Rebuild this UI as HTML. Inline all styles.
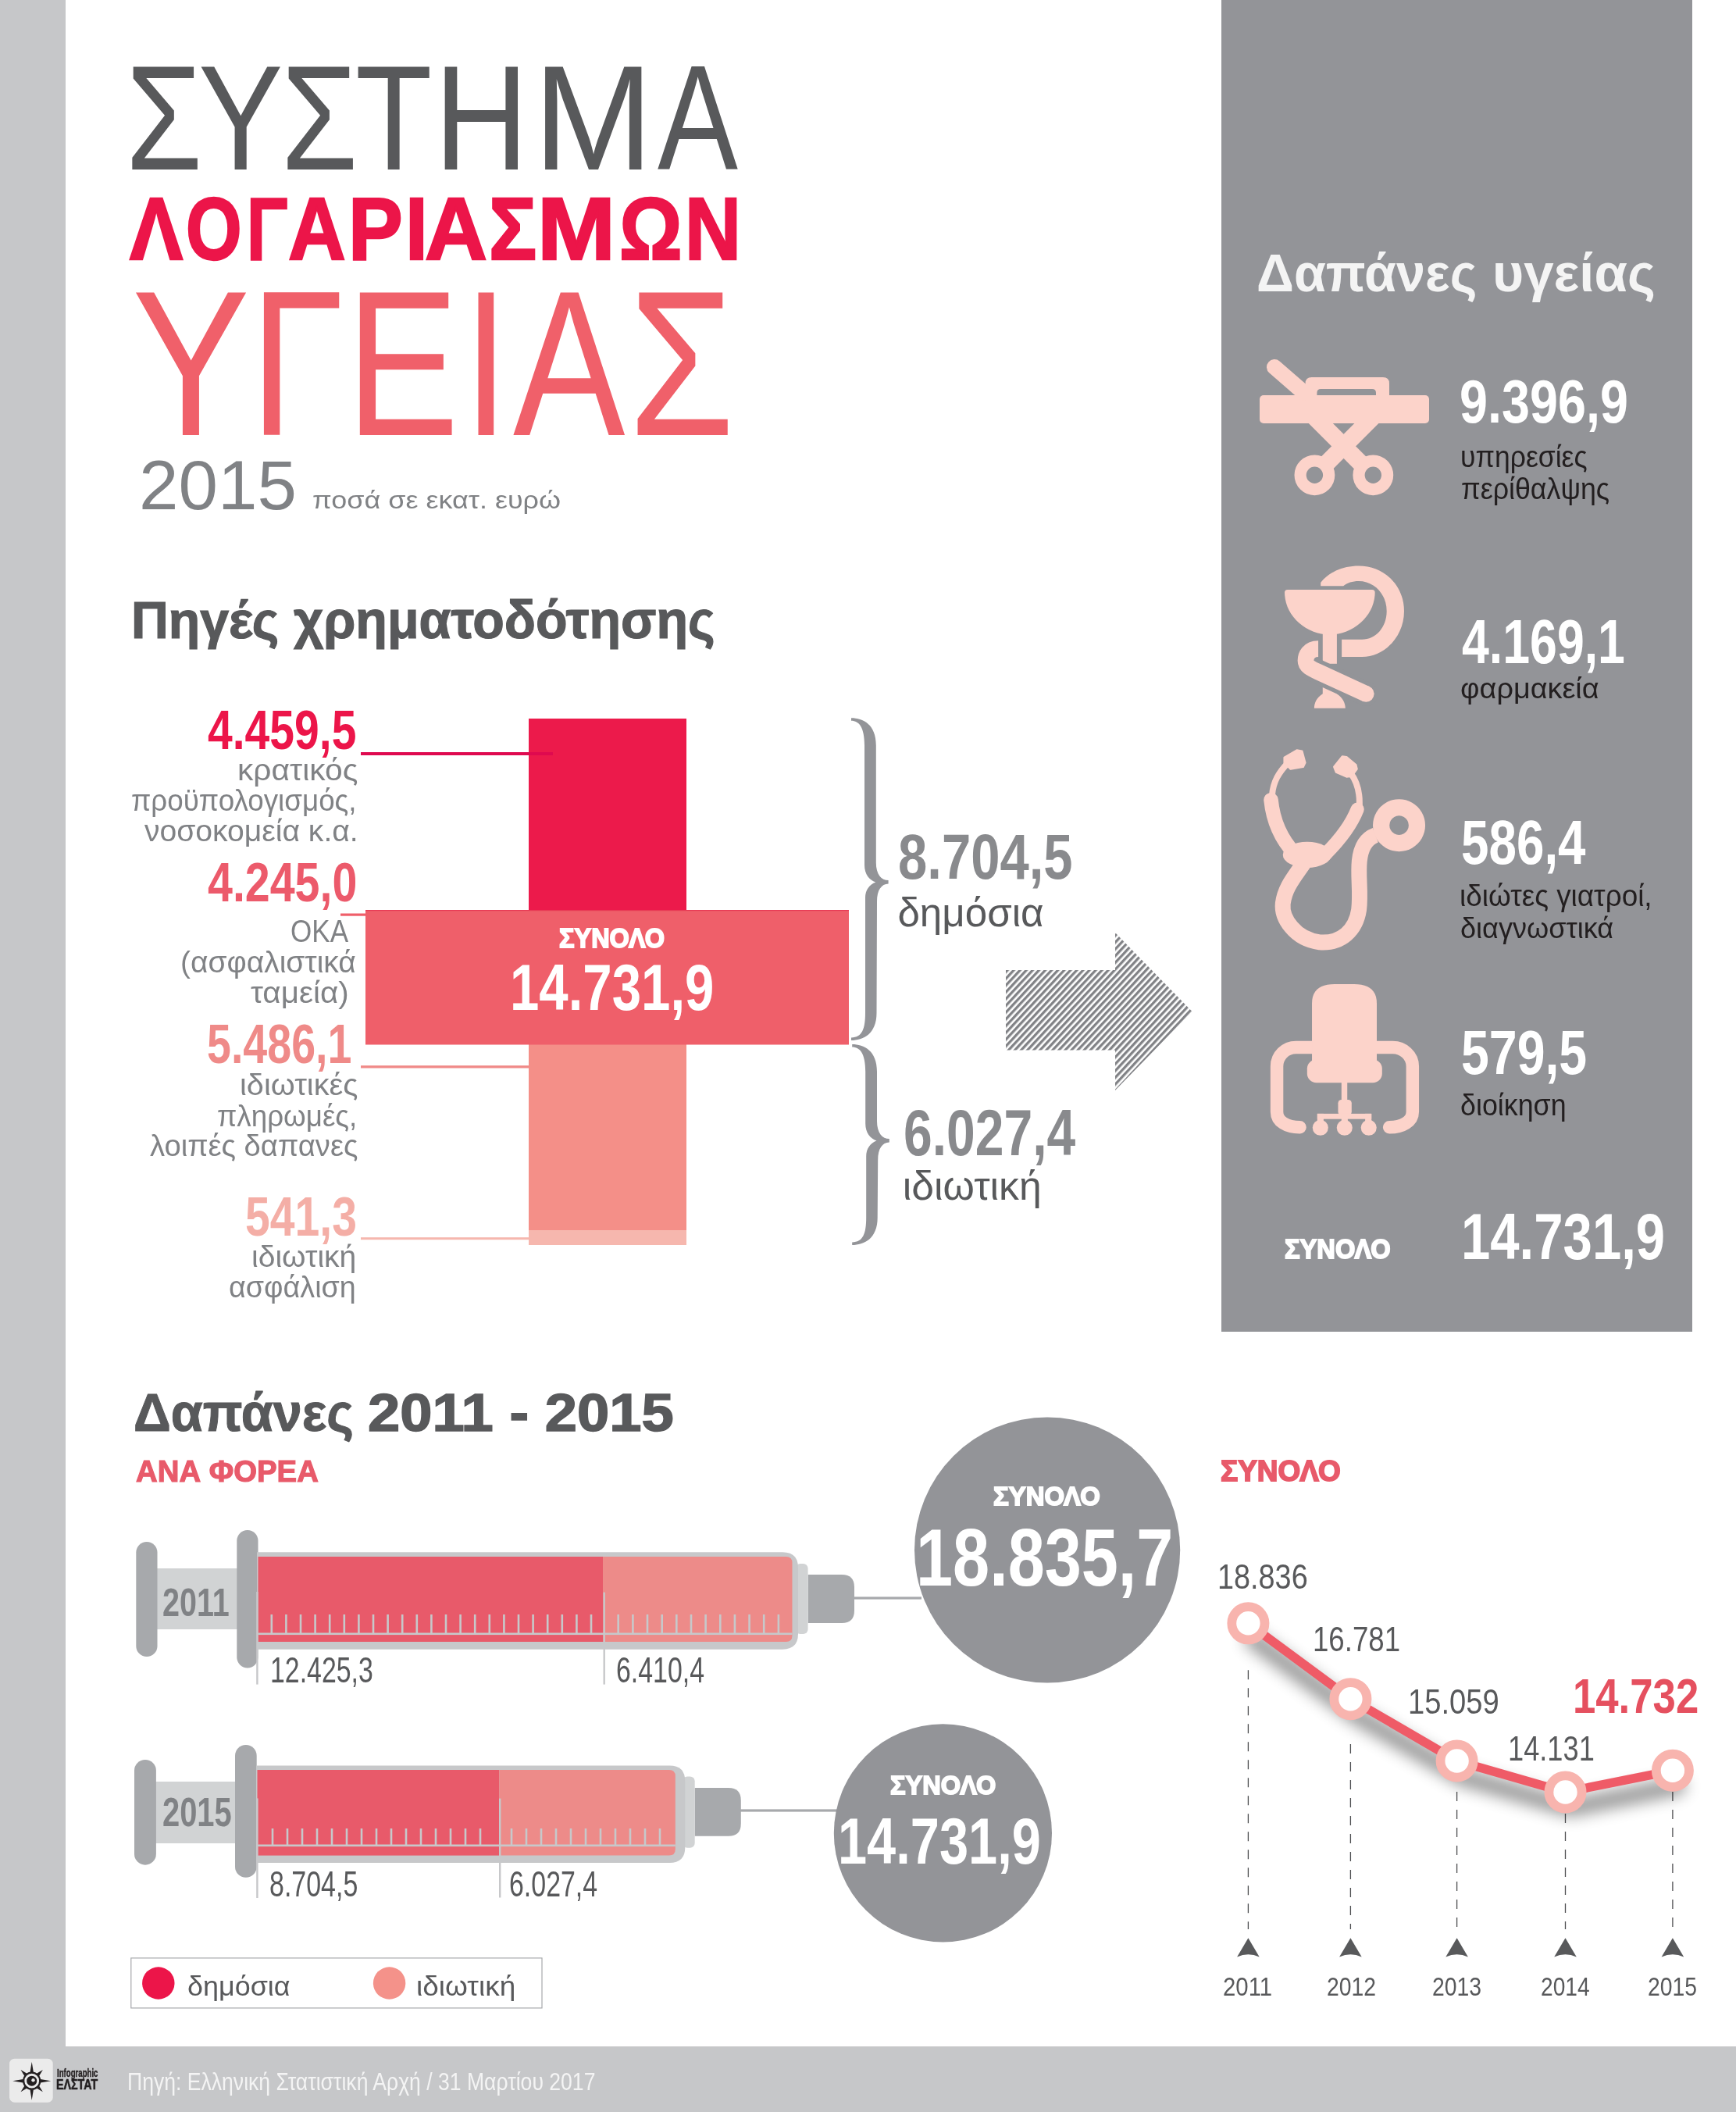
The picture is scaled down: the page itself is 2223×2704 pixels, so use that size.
<!DOCTYPE html>
<html><head><meta charset="utf-8"><style>
html,body{margin:0;padding:0;}
body{width:2223px;height:2704px;position:relative;overflow:hidden;background:#fff;font-family:"Liberation Sans",sans-serif;}
.t{position:absolute;white-space:pre;transform-origin:0 0;}
svg{position:absolute;left:0;top:0;}
</style></head><body>
<svg width="2223" height="2704" viewBox="0 0 2223 2704">
<defs>
<pattern id="hatch" patternUnits="userSpaceOnUse" width="5.9" height="20" patternTransform="translate(1288 1242) rotate(43)">
<rect x="0" y="0" width="3.3" height="20" fill="#818286"/></pattern>
<filter id="shd" filterUnits="userSpaceOnUse" x="1500" y="2000" width="723" height="400">
<feGaussianBlur in="SourceAlpha" stdDeviation="10"/>
<feOffset dx="6" dy="20" result="o"/>
<feComponentTransfer><feFuncA type="linear" slope="0.42"/></feComponentTransfer>
</filter>
</defs>
<rect x="0" y="0" width="84" height="2704" fill="#c6c7c9"/>
<rect x="0" y="2620" width="2223" height="84" fill="#c6c7c9"/>
<rect x="1564" y="0" width="603" height="1705" fill="#939498"/>
<rect x="677" y="920" width="202" height="246" fill="#ec1a4b"/>
<rect x="677" y="1337" width="202" height="239" fill="#f48f88"/>
<rect x="677" y="1575" width="202" height="19" fill="#f6b7ae"/>
<rect x="468" y="1165" width="619" height="172.5" fill="#ef5f6a"/>
<rect x="468" y="1165" width="619" height="1.2" fill="#e83a55"/>
<rect x="462" y="963" width="246" height="4" fill="#df0a4f"/>
<rect x="436" y="1169.5" width="32" height="3.2" fill="#ef5f6a"/>
<rect x="462" y="1364.2" width="215" height="3.3" fill="#f08a88"/>
<rect x="462" y="1584.2" width="215" height="3" fill="#f6b7ae"/>
<path d="M1090,919.2 C1105,919.2 1121.8,927.2 1121.8,954.2 L1121.8,1104.4 C1121.8,1119.4 1128.6,1127.1000000000001 1137.6,1127.1000000000001 L1137.6,1131.6000000000001 C1128.6,1131.9 1123,1139.4 1123,1154.4 L1122.5,1297 C1122.5,1324 1105,1332 1090,1332 L1090,1328.4 C1104,1328.4 1108,1317 1108,1297 L1108,1149.4 C1108,1139.4 1113.3,1132.4 1121.3,1129.4 C1113.3,1126.4 1107,1119.4 1107,1107.4 L1107,954.2 C1107,931.2 1100,922.8000000000001 1090,922.8000000000001 Z" fill="#939498"/>
<path d="M1091.2,1336.9 C1106.2,1336.9 1123.0,1344.9 1123.0,1371.9 L1123.0,1435.4 C1123.0,1450.4 1129.8,1458.1000000000001 1138.8,1458.1000000000001 L1138.8,1462.6000000000001 C1129.8,1462.9 1124.2,1470.4 1124.2,1485.4 L1123.7,1559 C1123.7,1586 1106.2,1594 1091.2,1594 L1091.2,1590.4 C1105.2,1590.4 1109.2,1579 1109.2,1559 L1109.2,1480.4 C1109.2,1470.4 1114.5,1463.4 1122.5,1460.4 C1114.5,1457.4 1108.2,1450.4 1108.2,1438.4 L1108.2,1371.9 C1108.2,1348.9 1101.2,1340.5 1091.2,1340.5 Z" fill="#939498"/>
<polygon points="1288,1242 1428,1242 1428,1194 1526.6,1295 1428,1396 1428,1344.5 1288,1344.5" fill="url(#hatch)"/>
<g fill="#fcd3ca">
<rect x="1613" y="506" width="217" height="36" rx="5"/>
<path fill-rule="evenodd" d="M1679.6,483 H1771 Q1779,483 1779,491 V507 H1762 V503 Q1762,498 1757,498 H1691.4 Q1686.4,498 1686.4,503 V507 H1671.6 V491 Q1671.6,483 1679.6,483 Z"/>
</g>
<g stroke="#fcd3ca" fill="none">
<line x1="1632" y1="470" x2="1670" y2="503" stroke-width="20" stroke-linecap="round"/>
<line x1="1674.3" y1="525" x2="1745" y2="595.7" stroke-width="22"/>
<line x1="1766.9" y1="525" x2="1696.2" y2="595.7" stroke-width="22"/>
</g>
<circle cx="1683.4" cy="608.3" r="18.3" stroke-width="15.2" stroke="#fcd3ca" fill="#939498"/>
<circle cx="1758.3" cy="608.3" r="18.3" stroke-width="15.2" stroke="#fcd3ca" fill="#939498"/>
<g transform="translate(1630 715) scale(0.10369)">
<rect x="615" y="800" width="175" height="500" fill="#fcd3ca"/>
<path d="M615,1580 L790,1600 L790,1670 C860,1720 895,1780 895,1850 L510,1850 C510,1780 540,1720 615,1670 Z" fill="#fcd3ca"/>
<path d="M560,1115 C440,1115 405,1200 405,1262 C405,1330 470,1360 560,1401 L1150,1672" fill="none" stroke="#939498" stroke-width="300"/>
<circle cx="1150" cy="1672" r="150" fill="#939498"/>
<path d="M560,1115 C440,1115 405,1200 405,1262 C405,1330 470,1360 560,1401 L1150,1672" fill="none" stroke="#fcd3ca" stroke-width="200"/>
<circle cx="1150" cy="1672" r="100" fill="#fcd3ca"/>
<path d="M145,420 Q145,385 180,385 L1225,385 Q1260,385 1260,420 C1260,700 1000,940 702,940 C400,940 145,700 145,420 Z" fill="#fcd3ca"/>
<path d="M590,300 C680,180 850,92 1060,92 C1370,92 1620,330 1620,650 C1620,960 1380,1215 1100,1215 L850,1215 L850,1000 L1100,1000 C1270,1000 1405,850 1405,650 C1405,440 1250,280 1060,280 C980,280 920,300 870,340 L590,340 Z" fill="#fcd3ca"/>
</g>
<g transform="translate(1605 950) scale(0.13249)" fill="none" stroke="#fcd3ca" stroke-linecap="round" stroke-linejoin="round">
<path d="M500,1150 C400,1300 305,1400 285,1560 C270,1700 400,1905 640,1935 C850,1950 990,1820 1020,1620 C1040,1450 1010,1300 1025,1150 C1040,1000 1100,930 1180,900" stroke-width="150" stroke-linecap="butt"/>
<path d="M330,205 C250,290 190,380 180,520" stroke-width="60"/>
<path d="M940,300 C1000,380 1030,470 1025,610" stroke-width="60"/>
<path d="M170,560 C190,760 260,930 400,1080" stroke-width="140"/>
<path d="M1005,650 C950,790 850,930 700,1080" stroke-width="130"/>
</g>
<g transform="translate(1605 950) scale(0.13249)" fill="#fcd3ca">
<ellipse cx="520" cy="1090" rx="235" ry="125"/>
<path d="M300,150 L420,80 L470,90 L500,200 L480,240 L360,260 L300,200 Z" stroke="#fcd3ca" stroke-width="20" stroke-linejoin="round"/>
<path d="M780,240 L860,140 L900,145 L990,220 L1000,260 L950,330 L900,335 L800,290 Z" stroke="#fcd3ca" stroke-width="20" stroke-linejoin="round"/>
<path fill-rule="evenodd" d="M1408,552 A253,253 0 1 1 1407.9,552 Z M1408,712 A93,93 0 1 0 1408.1,712 Z"/>
</g>
<g transform="translate(1615 1250) scale(0.12385)">
<g fill="none" stroke="#fcd3ca" stroke-width="133" stroke-linecap="round">
<path d="M560,735 H360 C250,735 162,820 162,930 V1400 C162,1500 260,1560 400,1560"/>
<path d="M1160,735 H1360 C1470,735 1565,820 1565,930 V1400 C1565,1500 1460,1560 1325,1560"/>
</g>
<g fill="#fcd3ca">
<path d="M525,1000 V280 C525,150 600,80 760,80 H960 C1120,80 1195,150 1195,280 V1000 Z"/>
<rect x="475" y="860" width="775" height="240" rx="95"/>
<rect x="830" y="1090" width="60" height="340"/>
<rect x="795" y="1275" width="140" height="160" rx="35"/>
<rect x="580" y="1420" width="560" height="55"/>
<rect x="580" y="1420" width="65" height="120"/>
<rect x="1075" y="1420" width="65" height="120"/>
<rect x="830" y="1420" width="65" height="120"/>
<circle cx="612" cy="1565" r="81"/><circle cx="862" cy="1565" r="81"/><circle cx="1112" cy="1565" r="81"/>
</g></g>
<rect x="195" y="2008" width="115" height="78" fill="#d1d3d4"/>
<rect x="174.3" y="1974" width="27.19999999999999" height="147" rx="13.599999999999994" fill="#a7a9ac"/>
<rect x="303.3" y="1959" width="27.19999999999999" height="176.4000000000001" rx="13.599999999999994" fill="#a7a9ac"/>
<rect x="1089" y="2044.4" width="91" height="3.2" fill="#a7a9ac"/>
<path d="M1034.6,2016 H1078 Q1094,2016 1094,2032 V2062 Q1094,2078 1078,2078 H1034.6 Z" fill="#a7a9ac"/>
<rect x="1018.6" y="2002" width="15.999999999999886" height="90" rx="6" fill="#d1d3d4"/>
<path d="M329,1987.2 H1002 Q1022,1987.2 1022,2007.2 V2091.7 Q1022,2111.7 1002,2111.7 H329 Z" fill="#c7c8ca"/>
<rect x="330.5" y="1993" width="441.5" height="109" fill="#e85a6a"/>
<path d="M772,1993 H1006.5 Q1014.5,1993 1014.5,2001 V2094 Q1014.5,2102 1006.5,2102 H772 Z" fill="#ed8b89"/>
<rect x="346.5" y="2067" width="2.6" height="24" fill="#c7c8ca"/>
<rect x="365.1" y="2067" width="2.6" height="24" fill="#c7c8ca"/>
<rect x="383.7" y="2067" width="2.6" height="24" fill="#c7c8ca"/>
<rect x="402.3" y="2067" width="2.6" height="24" fill="#c7c8ca"/>
<rect x="420.9" y="2067" width="2.6" height="24" fill="#c7c8ca"/>
<rect x="439.5" y="2067" width="2.6" height="24" fill="#c7c8ca"/>
<rect x="458.1" y="2067" width="2.6" height="24" fill="#c7c8ca"/>
<rect x="476.7" y="2067" width="2.6" height="24" fill="#c7c8ca"/>
<rect x="495.3" y="2067" width="2.6" height="24" fill="#c7c8ca"/>
<rect x="513.9" y="2067" width="2.6" height="24" fill="#c7c8ca"/>
<rect x="532.5" y="2067" width="2.6" height="24" fill="#c7c8ca"/>
<rect x="551.1" y="2067" width="2.6" height="24" fill="#c7c8ca"/>
<rect x="569.7" y="2067" width="2.6" height="24" fill="#c7c8ca"/>
<rect x="588.3" y="2067" width="2.6" height="24" fill="#c7c8ca"/>
<rect x="606.9" y="2067" width="2.6" height="24" fill="#c7c8ca"/>
<rect x="625.5" y="2067" width="2.6" height="24" fill="#c7c8ca"/>
<rect x="644.1" y="2067" width="2.6" height="24" fill="#c7c8ca"/>
<rect x="662.7" y="2067" width="2.6" height="24" fill="#c7c8ca"/>
<rect x="681.3" y="2067" width="2.6" height="24" fill="#c7c8ca"/>
<rect x="699.9" y="2067" width="2.6" height="24" fill="#c7c8ca"/>
<rect x="718.5" y="2067" width="2.6" height="24" fill="#c7c8ca"/>
<rect x="737.1" y="2067" width="2.6" height="24" fill="#c7c8ca"/>
<rect x="755.7" y="2067" width="2.6" height="24" fill="#c7c8ca"/>
<rect x="790.4" y="2067" width="2.6" height="24" fill="#c7c8ca"/>
<rect x="809.1" y="2067" width="2.6" height="24" fill="#c7c8ca"/>
<rect x="827.7" y="2067" width="2.6" height="24" fill="#c7c8ca"/>
<rect x="846.4" y="2067" width="2.6" height="24" fill="#c7c8ca"/>
<rect x="865.0" y="2067" width="2.6" height="24" fill="#c7c8ca"/>
<rect x="883.7" y="2067" width="2.6" height="24" fill="#c7c8ca"/>
<rect x="902.3" y="2067" width="2.6" height="24" fill="#c7c8ca"/>
<rect x="921.0" y="2067" width="2.6" height="24" fill="#c7c8ca"/>
<rect x="939.6" y="2067" width="2.6" height="24" fill="#c7c8ca"/>
<rect x="958.3" y="2067" width="2.6" height="24" fill="#c7c8ca"/>
<rect x="976.9" y="2067" width="2.6" height="24" fill="#c7c8ca"/>
<rect x="995.6" y="2067" width="2.6" height="24" fill="#c7c8ca"/>
<rect x="330.5" y="2090.5" width="684.0" height="2.6" fill="#c7c8ca"/>
<rect x="328.2" y="2038" width="2.4" height="118.59999999999991" fill="#c7c8ca"/>
<rect x="772.5" y="2038.6" width="2.4" height="118.0" fill="#c7c8ca"/>
<rect x="195" y="2281" width="113" height="79" fill="#d1d3d4"/>
<rect x="172" y="2252.9" width="27.900000000000006" height="134.79999999999973" rx="13.950000000000003" fill="#a7a9ac"/>
<rect x="301" y="2234" width="27.69999999999999" height="169.80000000000018" rx="13.849999999999994" fill="#a7a9ac"/>
<rect x="943.8" y="2316.4" width="131.20000000000005" height="3.2" fill="#a7a9ac"/>
<path d="M889.7,2289 H932.8 Q948.8,2289 948.8,2305 V2334.8 Q948.8,2350.8 932.8,2350.8 H889.7 Z" fill="#a7a9ac"/>
<rect x="874" y="2274.6" width="15.700000000000045" height="91.09999999999991" rx="6" fill="#d1d3d4"/>
<path d="M328,2260.5 H857.3 Q877.3,2260.5 877.3,2280.5 V2365 Q877.3,2385 857.3,2385 H328 Z" fill="#c7c8ca"/>
<rect x="329.5" y="2266" width="309.79999999999995" height="109.59999999999991" fill="#e85a6a"/>
<path d="M639.3,2266 H856.8 Q864.8,2266 864.8,2274 V2367.6 Q864.8,2375.6 856.8,2375.6 H639.3 Z" fill="#ed8b89"/>
<rect x="347.7" y="2341" width="2.6" height="21" fill="#c7c8ca"/>
<rect x="366.7" y="2341" width="2.6" height="21" fill="#c7c8ca"/>
<rect x="385.7" y="2341" width="2.6" height="21" fill="#c7c8ca"/>
<rect x="404.7" y="2341" width="2.6" height="21" fill="#c7c8ca"/>
<rect x="423.7" y="2341" width="2.6" height="21" fill="#c7c8ca"/>
<rect x="442.7" y="2341" width="2.6" height="21" fill="#c7c8ca"/>
<rect x="461.7" y="2341" width="2.6" height="21" fill="#c7c8ca"/>
<rect x="480.7" y="2341" width="2.6" height="21" fill="#c7c8ca"/>
<rect x="499.7" y="2341" width="2.6" height="21" fill="#c7c8ca"/>
<rect x="518.7" y="2341" width="2.6" height="21" fill="#c7c8ca"/>
<rect x="537.7" y="2341" width="2.6" height="21" fill="#c7c8ca"/>
<rect x="556.7" y="2341" width="2.6" height="21" fill="#c7c8ca"/>
<rect x="575.7" y="2341" width="2.6" height="21" fill="#c7c8ca"/>
<rect x="594.7" y="2341" width="2.6" height="21" fill="#c7c8ca"/>
<rect x="613.7" y="2341" width="2.6" height="21" fill="#c7c8ca"/>
<rect x="653.7" y="2341" width="2.6" height="21" fill="#c7c8ca"/>
<rect x="672.7" y="2341" width="2.6" height="21" fill="#c7c8ca"/>
<rect x="691.7" y="2341" width="2.6" height="21" fill="#c7c8ca"/>
<rect x="710.7" y="2341" width="2.6" height="21" fill="#c7c8ca"/>
<rect x="729.7" y="2341" width="2.6" height="21" fill="#c7c8ca"/>
<rect x="748.7" y="2341" width="2.6" height="21" fill="#c7c8ca"/>
<rect x="767.7" y="2341" width="2.6" height="21" fill="#c7c8ca"/>
<rect x="786.7" y="2341" width="2.6" height="21" fill="#c7c8ca"/>
<rect x="805.7" y="2341" width="2.6" height="21" fill="#c7c8ca"/>
<rect x="824.7" y="2341" width="2.6" height="21" fill="#c7c8ca"/>
<rect x="843.7" y="2341" width="2.6" height="21" fill="#c7c8ca"/>
<rect x="329.5" y="2361.5" width="535.3" height="2.6" fill="#c7c8ca"/>
<rect x="328.2" y="2302.4" width="2.4" height="127.59999999999991" fill="#c7c8ca"/>
<rect x="639.0" y="2302.6" width="2.4" height="126.90000000000009" fill="#c7c8ca"/>
<circle cx="1341.1" cy="1984.5" r="170.1" fill="#939498"/>
<circle cx="1207.4" cy="2346.9" r="139.6" fill="#939498"/>
<line x1="1598.4" y1="2138.2" x2="1598.4" y2="2470" stroke="#4d4e50" stroke-width="1.3" stroke-dasharray="12 11"/>
<path d="M1598.4,2481.2 L1612.7,2505.6 Q1598.4,2499 1584.1000000000001,2505.6 Z" fill="#58595b"/>
<line x1="1729.4" y1="2233" x2="1729.4" y2="2470" stroke="#4d4e50" stroke-width="1.3" stroke-dasharray="12 11"/>
<path d="M1729.4,2481.2 L1743.7,2505.6 Q1729.4,2499 1715.1000000000001,2505.6 Z" fill="#58595b"/>
<line x1="1865.6" y1="2294" x2="1865.6" y2="2470" stroke="#4d4e50" stroke-width="1.3" stroke-dasharray="12 11"/>
<path d="M1865.6,2481.2 L1879.8999999999999,2505.6 Q1865.6,2499 1851.3,2505.6 Z" fill="#58595b"/>
<line x1="2004.5" y1="2322" x2="2004.5" y2="2470" stroke="#4d4e50" stroke-width="1.3" stroke-dasharray="12 11"/>
<path d="M2004.5,2481.2 L2018.8,2505.6 Q2004.5,2499 1990.2,2505.6 Z" fill="#58595b"/>
<line x1="2141.9" y1="2294" x2="2141.9" y2="2470" stroke="#4d4e50" stroke-width="1.3" stroke-dasharray="12 11"/>
<path d="M2141.9,2481.2 L2156.2000000000003,2505.6 Q2141.9,2499 2127.6,2505.6 Z" fill="#58595b"/>
<g filter="url(#shd)"><polyline points="1598.4,2078.3 1729.4,2175.2 1865.6,2254.5 2004.5,2294.5 2141.9,2266.8" fill="none" stroke="#000" stroke-width="22" stroke-linejoin="round" stroke-linecap="round"/>
</g>
<polyline points="1598.4,2078.3 1729.4,2175.2 1865.6,2254.5 2004.5,2294.5 2141.9,2266.8" fill="none" stroke="#ef5b67" stroke-width="11.5" stroke-linejoin="round"/>
<circle cx="1598.4" cy="2078.3" r="21.1" fill="#fff" stroke="#f8b4ae" stroke-width="11.8"/>
<circle cx="1729.4" cy="2175.2" r="21.1" fill="#fff" stroke="#f8b4ae" stroke-width="11.8"/>
<circle cx="1865.6" cy="2254.5" r="21.1" fill="#fff" stroke="#f8b4ae" stroke-width="11.8"/>
<circle cx="2004.5" cy="2294.5" r="21.1" fill="#fff" stroke="#f8b4ae" stroke-width="11.8"/>
<circle cx="2141.9" cy="2266.8" r="21.1" fill="#fff" stroke="#f8b4ae" stroke-width="11.8"/>
<rect x="167.8" y="2506.9" width="526.2" height="64" fill="none" stroke="#a7a9ac" stroke-width="1.2"/>
<circle cx="202.8" cy="2539" r="20.7" fill="#ec1549"/>
<circle cx="498.6" cy="2539" r="20.7" fill="#f4928a"/>
<rect x="12.1" y="2635.7" width="55.6" height="56" rx="6.5" fill="#ebebeb"/>
<g transform="translate(40.7 2664.2)" fill="#231f20">
<path d="M0,-24.5 L2.2,-11 L-2.2,-11 Z" transform="rotate(0)"/>
<path d="M0,-20 L2.2,-11 L-2.2,-11 Z" transform="rotate(45)"/>
<path d="M0,-24.5 L2.2,-11 L-2.2,-11 Z" transform="rotate(90)"/>
<path d="M0,-20 L2.2,-11 L-2.2,-11 Z" transform="rotate(135)"/>
<path d="M0,-24.5 L2.2,-11 L-2.2,-11 Z" transform="rotate(180)"/>
<path d="M0,-20 L2.2,-11 L-2.2,-11 Z" transform="rotate(225)"/>
<path d="M0,-24.5 L2.2,-11 L-2.2,-11 Z" transform="rotate(270)"/>
<path d="M0,-20 L2.2,-11 L-2.2,-11 Z" transform="rotate(315)"/>
<circle r="10.5" fill="none" stroke="#231f20" stroke-width="2.2"/><circle r="6.5" fill="#231f20"/><circle r="2.2" cx="1.8" cy="-1" fill="#ebebeb"/>
</g>
</svg>
<div class="t" style="left:161.4px;top:55.6px;font-size:191.13px;line-height:191.13px;color:#58595b;font-weight:400;transform:scaleX(0.8304);">Σ</div>
<div class="t" style="left:253.8px;top:55.6px;font-size:191.13px;line-height:191.13px;color:#58595b;font-weight:400;transform:scaleX(0.8510);">Υ</div>
<div class="t" style="left:359.5px;top:55.6px;font-size:191.13px;line-height:191.13px;color:#58595b;font-weight:400;transform:scaleX(0.8314);">Σ</div>
<div class="t" style="left:455.4px;top:55.6px;font-size:191.13px;line-height:191.13px;color:#58595b;font-weight:400;transform:scaleX(0.8426);">Τ</div>
<div class="t" style="left:555.8px;top:55.6px;font-size:191.13px;line-height:191.13px;color:#58595b;font-weight:400;transform:scaleX(0.8743);">Η</div>
<div class="t" style="left:682.6px;top:55.6px;font-size:191.13px;line-height:191.13px;color:#58595b;font-weight:400;transform:scaleX(0.9642);">Μ</div>
<div class="t" style="left:841.5px;top:55.6px;font-size:191.13px;line-height:191.13px;color:#58595b;font-weight:400;transform:scaleX(0.8075);">Α</div>
<div class="t" style="left:166.2px;top:236.2px;font-size:113.37px;line-height:113.37px;color:#ec1549;font-weight:700;transform:scaleX(0.9013);-webkit-text-stroke:2.5px #ec1549;">Λ</div>
<div class="t" style="left:237.7px;top:236.2px;font-size:113.37px;line-height:113.37px;color:#ec1549;font-weight:700;transform:scaleX(0.8118);-webkit-text-stroke:2.5px #ec1549;">Ο</div>
<div class="t" style="left:315.8px;top:236.2px;font-size:113.37px;line-height:113.37px;color:#ec1549;font-weight:700;transform:scaleX(0.7663);-webkit-text-stroke:2.5px #ec1549;">Γ</div>
<div class="t" style="left:368.7px;top:236.2px;font-size:113.37px;line-height:113.37px;color:#ec1549;font-weight:700;transform:scaleX(0.9000);-webkit-text-stroke:2.5px #ec1549;">Α</div>
<div class="t" style="left:445.6px;top:236.2px;font-size:113.37px;line-height:113.37px;color:#ec1549;font-weight:700;transform:scaleX(0.9223);-webkit-text-stroke:2.5px #ec1549;">Ρ</div>
<div class="t" style="left:519.1px;top:236.2px;font-size:113.37px;line-height:113.37px;color:#ec1549;font-weight:700;transform:scaleX(0.9174);-webkit-text-stroke:2.5px #ec1549;">Ι</div>
<div class="t" style="left:544.1px;top:236.2px;font-size:113.37px;line-height:113.37px;color:#ec1549;font-weight:700;transform:scaleX(0.9770);-webkit-text-stroke:2.5px #ec1549;">Α</div>
<div class="t" style="left:625.8px;top:236.2px;font-size:113.37px;line-height:113.37px;color:#ec1549;font-weight:700;transform:scaleX(0.9008);-webkit-text-stroke:2.5px #ec1549;">Σ</div>
<div class="t" style="left:688.3px;top:236.2px;font-size:113.37px;line-height:113.37px;color:#ec1549;font-weight:700;transform:scaleX(1.0597);-webkit-text-stroke:2.5px #ec1549;">Μ</div>
<div class="t" style="left:792.6px;top:236.2px;font-size:113.37px;line-height:113.37px;color:#ec1549;font-weight:700;transform:scaleX(0.8870);-webkit-text-stroke:2.5px #ec1549;">Ω</div>
<div class="t" style="left:877.4px;top:236.2px;font-size:113.37px;line-height:113.37px;color:#ec1549;font-weight:700;transform:scaleX(0.8787);-webkit-text-stroke:2.5px #ec1549;">Ν</div>
<div class="t" style="left:168.5px;top:332.7px;font-size:265.26px;line-height:265.26px;color:#f0606a;font-weight:400;transform:scaleX(0.8539);">Υ</div>
<div class="t" style="left:319.9px;top:332.7px;font-size:265.26px;line-height:265.26px;color:#f0606a;font-weight:400;transform:scaleX(0.8237);">Γ</div>
<div class="t" style="left:443.0px;top:332.7px;font-size:265.26px;line-height:265.26px;color:#f0606a;font-weight:400;transform:scaleX(0.8189);">Ε</div>
<div class="t" style="left:593.4px;top:332.7px;font-size:265.26px;line-height:265.26px;color:#f0606a;font-weight:400;transform:scaleX(0.7962);">Ι</div>
<div class="t" style="left:657.1px;top:332.7px;font-size:265.26px;line-height:265.26px;color:#f0606a;font-weight:400;transform:scaleX(0.8108);">Α</div>
<div class="t" style="left:804.7px;top:332.7px;font-size:265.26px;line-height:265.26px;color:#f0606a;font-weight:400;transform:scaleX(0.8258);">Σ</div>
<div class="t" style="left:177.7px;top:578.0px;font-size:88.66px;line-height:88.66px;color:#808285;font-weight:400;transform:scaleX(1.0238);">2015</div>
<div class="t" style="left:399.9px;top:624.0px;font-size:32.20px;line-height:32.20px;color:#808285;font-weight:400;transform:scaleX(1.1166);">ποσά σε εκατ. ευρώ</div>
<div class="t" style="left:168.4px;top:760.4px;font-size:67.59px;line-height:67.59px;color:#58595b;font-weight:700;transform:scaleX(0.9792);-webkit-text-stroke:1.2px #58595b;">Πηγές</div>
<div class="t" style="left:375.9px;top:759.4px;font-size:68.10px;line-height:68.10px;color:#58595b;font-weight:700;transform:scaleX(0.9755);-webkit-text-stroke:1.2px #58595b;">χρηματοδότησης</div>
<div class="t" style="left:1608.9px;top:315.6px;font-size:68.75px;line-height:68.75px;color:#f4f4f4;font-weight:700;transform:scaleX(0.9694);">Δαπάνες</div>
<div class="t" style="left:1910.7px;top:315.6px;font-size:68.80px;line-height:68.80px;color:#f4f4f4;font-weight:700;transform:scaleX(1.0031);">υγείας</div>
<div class="t" style="left:1868.7px;top:476.0px;font-size:77.03px;line-height:77.03px;color:#ffffff;font-weight:700;transform:scaleX(0.8402);">9.396,9</div>
<div class="t" style="left:1869.5px;top:566.0px;font-size:38.45px;line-height:38.45px;color:#231f20;font-weight:400;transform:scaleX(0.9241);">υπηρεσίες</div>
<div class="t" style="left:1870.9px;top:606.6px;font-size:38.07px;line-height:38.07px;color:#231f20;font-weight:400;transform:scaleX(0.9403);">περίθαλψης</div>
<div class="t" style="left:1871.6px;top:782.0px;font-size:79.65px;line-height:79.65px;color:#ffffff;font-weight:700;transform:scaleX(0.7863);">4.169,1</div>
<div class="t" style="left:1869.8px;top:862.7px;font-size:37.50px;line-height:37.50px;color:#231f20;font-weight:400;transform:scaleX(1.0084);">φαρμακεία</div>
<div class="t" style="left:1870.6px;top:1039.1px;font-size:79.22px;line-height:79.22px;color:#ffffff;font-weight:700;transform:scaleX(0.8050);">586,4</div>
<div class="t" style="left:1869.3px;top:1128.2px;font-size:38.26px;line-height:38.26px;color:#231f20;font-weight:400;transform:scaleX(0.9639);">ιδιώτες γιατροί,</div>
<div class="t" style="left:1869.9px;top:1170.0px;font-size:37.69px;line-height:37.69px;color:#231f20;font-weight:400;transform:scaleX(0.9577);">διαγνωστικά</div>
<div class="t" style="left:1870.6px;top:1307.5px;font-size:80.09px;line-height:80.09px;color:#ffffff;font-weight:700;transform:scaleX(0.8044);">579,5</div>
<div class="t" style="left:1869.9px;top:1395.7px;font-size:38.07px;line-height:38.07px;color:#231f20;font-weight:400;transform:scaleX(0.9409);">διοίκηση</div>
<div class="t" style="left:1644.8px;top:1582.0px;font-size:34.45px;line-height:34.45px;color:#ffffff;font-weight:700;transform:scaleX(0.9474);-webkit-text-stroke:1.8px #ffffff;">ΣΥΝΟΛΟ</div>
<div class="t" style="left:1870.8px;top:1541.9px;font-size:83.58px;line-height:83.58px;color:#ffffff;font-weight:700;transform:scaleX(0.8027);">14.731,9</div>
<div class="t" style="left:266.0px;top:901.1px;font-size:69.62px;line-height:69.62px;color:#ec1549;font-weight:700;transform:scaleX(0.8198);">4.459,5</div>
<div class="t" style="left:304.0px;top:966.0px;font-size:39.58px;line-height:39.58px;color:#808285;font-weight:400;transform:scaleX(1.0294);">κρατικός</div>
<div class="t" style="left:168.3px;top:1004.9px;font-size:39.02px;line-height:39.02px;color:#808285;font-weight:400;transform:scaleX(0.9425);">προϋπολογισμός,</div>
<div class="t" style="left:185.0px;top:1044.7px;font-size:38.26px;line-height:38.26px;color:#808285;font-weight:400;transform:scaleX(1.0210);">νοσοκομεία κ.α.</div>
<div class="t" style="left:266.2px;top:1094.6px;font-size:70.35px;line-height:70.35px;color:#ec5a6b;font-weight:700;transform:scaleX(0.8151);">4.245,0</div>
<div class="t" style="left:372.4px;top:1172.6px;font-size:40.26px;line-height:40.26px;color:#808285;font-weight:400;transform:scaleX(0.8712);">ΟΚΑ</div>
<div class="t" style="left:231.4px;top:1212.0px;font-size:39.20px;line-height:39.20px;color:#808285;font-weight:400;transform:scaleX(0.9928);">(ασφαλιστικά</div>
<div class="t" style="left:320.8px;top:1251.5px;font-size:38.45px;line-height:38.45px;color:#808285;font-weight:400;transform:scaleX(1.0497);">ταμεία)</div>
<div class="t" style="left:715.8px;top:1183.9px;font-size:34.30px;line-height:34.30px;color:#ffffff;font-weight:700;transform:scaleX(0.9472);-webkit-text-stroke:1.8px #ffffff;">ΣΥΝΟΛΟ</div>
<div class="t" style="left:652.5px;top:1222.8px;font-size:82.56px;line-height:82.56px;color:#ffffff;font-weight:700;transform:scaleX(0.8136);">14.731,9</div>
<div class="t" style="left:265.0px;top:1301.5px;font-size:70.78px;line-height:70.78px;color:#ef8a88;font-weight:700;transform:scaleX(0.7853);">5.486,1</div>
<div class="t" style="left:306.6px;top:1369.0px;font-size:39.39px;line-height:39.39px;color:#808285;font-weight:400;transform:scaleX(1.0083);">ιδιωτικές</div>
<div class="t" style="left:277.8px;top:1408.7px;font-size:39.20px;line-height:39.20px;color:#808285;font-weight:400;transform:scaleX(0.9378);">πληρωμές,</div>
<div class="t" style="left:191.6px;top:1446.7px;font-size:39.20px;line-height:39.20px;color:#808285;font-weight:400;transform:scaleX(0.9743);">λοιπές δαπανες</div>
<div class="t" style="left:314.0px;top:1522.2px;font-size:71.22px;line-height:71.22px;color:#f4aea6;font-weight:700;transform:scaleX(0.8019);">541,3</div>
<div class="t" style="left:321.7px;top:1589.0px;font-size:39.39px;line-height:39.39px;color:#808285;font-weight:400;transform:scaleX(0.9911);">ιδιωτική</div>
<div class="t" style="left:293.0px;top:1627.6px;font-size:39.39px;line-height:39.39px;color:#808285;font-weight:400;transform:scaleX(0.9579);">ασφάλιση</div>
<div class="t" style="left:1149.6px;top:1056.0px;font-size:82.27px;line-height:82.27px;color:#898a8d;font-weight:700;transform:scaleX(0.8148);">8.704,5</div>
<div class="t" style="left:1149.4px;top:1142.5px;font-size:51.14px;line-height:51.14px;color:#58595b;font-weight:400;">δημόσια</div>
<div class="t" style="left:1156.9px;top:1410.0px;font-size:82.85px;line-height:82.85px;color:#898a8d;font-weight:700;transform:scaleX(0.7971);">6.027,4</div>
<div class="t" style="left:1155.8px;top:1493.0px;font-size:51.70px;line-height:51.70px;color:#58595b;font-weight:400;">ιδιωτική</div>
<div class="t" style="left:170.8px;top:1775.1px;font-size:67.88px;line-height:67.88px;color:#58595b;font-weight:700;transform:scaleX(0.9804);-webkit-text-stroke:1px #58595b;">Δαπάνες</div>
<div class="t" style="left:470.5px;top:1774.8px;font-size:67.73px;line-height:67.73px;color:#58595b;font-weight:700;transform:scaleX(1.0948);-webkit-text-stroke:1.5px #58595b;">2011 - 2015</div>
<div class="t" style="left:174.0px;top:1864.9px;font-size:38.95px;line-height:38.95px;color:#e85a6a;font-weight:700;transform:scaleX(0.9848);-webkit-text-stroke:1.2px #e85a6a;">ΑΝΑ ΦΟΡΕΑ</div>
<div class="t" style="left:208.3px;top:2027.0px;font-size:50.15px;line-height:50.15px;color:#808285;font-weight:700;transform:scaleX(0.7879);">2011</div>
<div class="t" style="left:345.6px;top:2114.9px;font-size:46.22px;line-height:46.22px;color:#58595b;font-weight:400;transform:scaleX(0.7325);">12.425,3</div>
<div class="t" style="left:789.4px;top:2115.0px;font-size:46.51px;line-height:46.51px;color:#58595b;font-weight:400;transform:scaleX(0.7284);">6.410,4</div>
<div class="t" style="left:1272.4px;top:1898.8px;font-size:33.43px;line-height:33.43px;color:#ffffff;font-weight:700;transform:scaleX(0.9836);-webkit-text-stroke:1.8px #ffffff;">ΣΥΝΟΛΟ</div>
<div class="t" style="left:1173.3px;top:1942.0px;font-size:104.65px;line-height:104.65px;color:#ffffff;font-weight:700;transform:scaleX(0.8087);">18.835,7</div>
<div class="t" style="left:208.3px;top:2294.5px;font-size:51.02px;line-height:51.02px;color:#808285;font-weight:700;transform:scaleX(0.7819);">2015</div>
<div class="t" style="left:345.0px;top:2388.8px;font-size:46.37px;line-height:46.37px;color:#58595b;font-weight:400;transform:scaleX(0.7326);">8.704,5</div>
<div class="t" style="left:651.9px;top:2388.8px;font-size:46.37px;line-height:46.37px;color:#58595b;font-weight:400;transform:scaleX(0.7313);">6.027,4</div>
<div class="t" style="left:1139.5px;top:2267.6px;font-size:34.01px;line-height:34.01px;color:#ffffff;font-weight:700;transform:scaleX(0.9575);-webkit-text-stroke:1.8px #ffffff;">ΣΥΝΟΛΟ</div>
<div class="t" style="left:1072.8px;top:2315.6px;font-size:83.72px;line-height:83.72px;color:#ffffff;font-weight:700;transform:scaleX(0.7973);">14.731,9</div>
<div class="t" style="left:1562.5px;top:1865.1px;font-size:37.35px;line-height:37.35px;color:#e85a6a;font-weight:700;transform:scaleX(0.9901);-webkit-text-stroke:1.8px #e85a6a;">ΣΥΝΟΛΟ</div>
<div class="t" style="left:1559.1px;top:1995.8px;font-size:45.20px;line-height:45.20px;color:#58595b;font-weight:400;transform:scaleX(0.8369);">18.836</div>
<div class="t" style="left:1681.3px;top:2076.4px;font-size:45.20px;line-height:45.20px;color:#58595b;font-weight:400;transform:scaleX(0.8107);">16.781</div>
<div class="t" style="left:1802.6px;top:2155.5px;font-size:45.20px;line-height:45.20px;color:#58595b;font-weight:400;transform:scaleX(0.8451);">15.059</div>
<div class="t" style="left:1930.6px;top:2217.0px;font-size:44.48px;line-height:44.48px;color:#58595b;font-weight:400;transform:scaleX(0.8147);">14.131</div>
<div class="t" style="left:2013.7px;top:2138.5px;font-size:63.52px;line-height:63.52px;color:#e5505f;font-weight:700;transform:scaleX(0.8298);">14.732</div>
<div class="t" style="left:1566.2px;top:2528.4px;font-size:32.70px;line-height:32.70px;color:#58595b;font-weight:400;transform:scaleX(0.8983);">2011</div>
<div class="t" style="left:1698.5px;top:2528.4px;font-size:32.70px;line-height:32.70px;color:#58595b;font-weight:400;transform:scaleX(0.8671);">2012</div>
<div class="t" style="left:1834.4px;top:2528.4px;font-size:32.70px;line-height:32.70px;color:#58595b;font-weight:400;transform:scaleX(0.8671);">2013</div>
<div class="t" style="left:1972.9px;top:2528.4px;font-size:32.70px;line-height:32.70px;color:#58595b;font-weight:400;transform:scaleX(0.8608);">2014</div>
<div class="t" style="left:2109.5px;top:2528.4px;font-size:32.70px;line-height:32.70px;color:#58595b;font-weight:400;transform:scaleX(0.8671);">2015</div>
<div class="t" style="left:240.4px;top:2526.4px;font-size:35.42px;line-height:35.42px;color:#58595b;font-weight:400;transform:scaleX(1.0151);">δημόσια</div>
<div class="t" style="left:532.5px;top:2526.4px;font-size:35.42px;line-height:35.42px;color:#58595b;font-weight:400;transform:scaleX(1.0444);">ιδιωτική</div>
<div class="t" style="left:163.1px;top:2650.3px;font-size:30.67px;line-height:30.67px;color:#f4f4f4;font-weight:400;transform:scaleX(0.8668);">Πηγή: Ελληνική Στατιστική Αρχή / 31 Μαρτίου 2017</div>
<div class="t" style="left:73.4px;top:2648.4px;font-size:13.95px;line-height:13.95px;color:#231f20;font-weight:700;transform:scaleX(0.6910);-webkit-text-stroke:0.4px #231f20;">Infographic</div>
<div class="t" style="left:72.4px;top:2660.3px;font-size:18.46px;line-height:18.46px;color:#231f20;font-weight:700;transform:scaleX(0.7742);-webkit-text-stroke:0.6px #231f20;">ΕΛΣΤΑΤ</div>
</body></html>
